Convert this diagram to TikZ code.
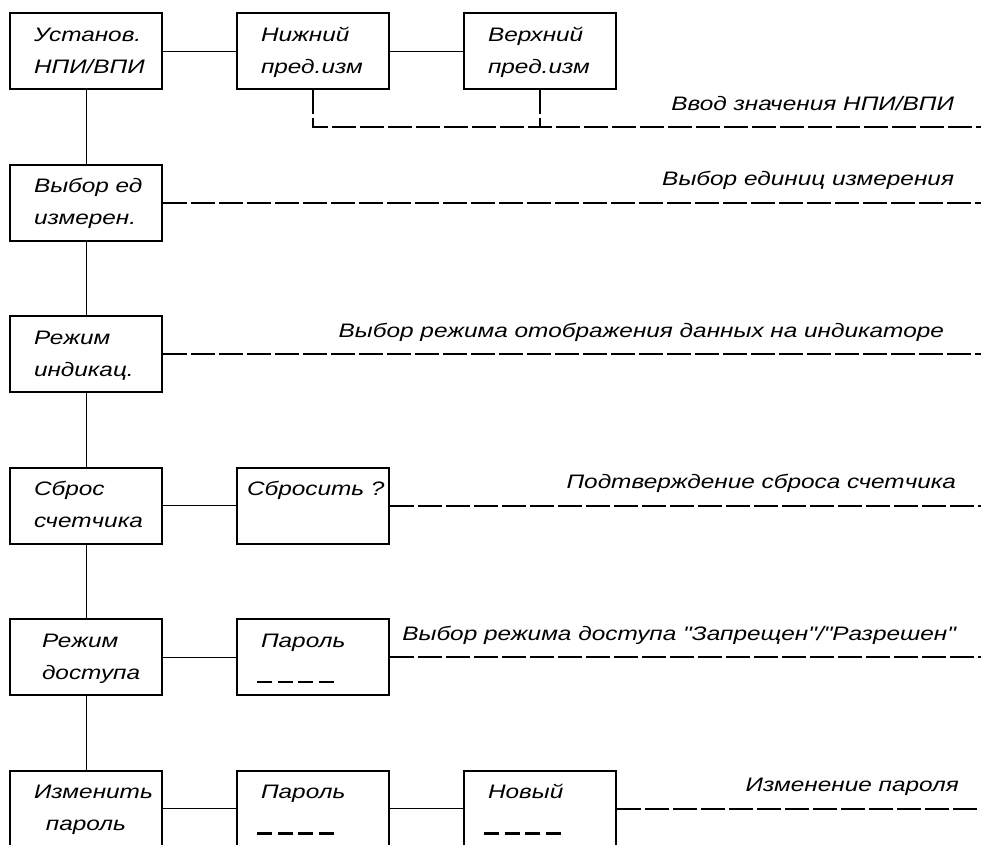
\documentclass[tikz,border=0pt]{standalone}
\usepackage{fontspec}
\setmainfont{Liberation Sans}[FakeStretch=1.25,Ligatures=TeXOff]
\usetikzlibrary{positioning}
\newcommand{\two}[2]{\strut#1\\\strut#2}
\newcommand{\pwd}{\hspace*{-4pt}\rule[-4pt]{15pt}{2.6pt}\hspace{5.5pt}\rule[-4pt]{15pt}{2.6pt}\hspace{5.5pt}\rule[-4pt]{15pt}{2.6pt}\hspace{5.5pt}\rule[-4pt]{15pt}{2.6pt}}

\begin{document}
\begin{tikzpicture}[x=1pt,y=-1pt,
  every node/.style={font=\fontsize{19.5}{32}\selectfont\itshape},
  box/.style={draw,line width=2pt,minimum width=152pt,minimum height=76pt,inner xsep=24pt,inner ysep=0pt,text width=104pt,align=left},
  link/.style={line width=1pt},
  route/.style={line width=2pt,dash pattern=on 24pt off 4pt},
  lbl/.style={anchor=base east,inner sep=0pt,yshift=17pt}]
\useasboundingbox (0,0) rectangle (981,844);
% left column
\node[box,align=center] (set) at (86,51) {\two{Установ.}{НПИ/ВПИ}};
\node[box,below=73.5pt of set] (unit) {\two{Выбор~ед}{измерен.}};
\node[box,below=73.5pt of unit] (disp) {\two{Режим}{индикац.}};
\node[box,below=73.5pt of disp] (reset) {\two{Сброс}{счетчика}};
\node[box,below=73.5pt of reset,inner xsep=32pt,text width=88pt] (access) {\two{Режим}{доступа}};
\node[box,below=73.5pt of access,align=center] (chpass) {\two{Изменить}{пароль}};
% side boxes
\node[box,right=73pt of set] (lower) {\two{Нижний}{пред.изм}};
\node[box,right=73pt of lower] (upper) {\two{Верхний}{пред.изм}};
\node[box,right=73pt of reset,inner xsep=10pt,text width=132pt] (conf) {\two{Сбросить~?}{}};
\node[box,right=73pt of access] (pass1) {\two{Пароль}{\pwd}};
\node[box,right=73pt of chpass] (pass2) {\two{Пароль}{\pwd}};
\node[box,right=73pt of pass2] (newpass) {\two{Новый}{\pwd}};
\coordinate (e1) at (981,127);
% solid links
\draw[link] (set) -- (unit) -- (disp) -- (reset) -- (access) -- (chpass);
\draw[link] (set) -- (lower) -- (upper);
\draw[link] (reset) -- (conf);
\draw[link] (access) -- (pass1);
\draw[link] (chpass) -- (pass2) -- (newpass);
% dashed routes
\draw[route] (lower.south) |- (e1) node[lbl,pos=1,xshift=-26pt] {Ввод значения НПИ/ВПИ};
\draw[route] (upper.south) -- (upper.south |- e1);
\draw[route] (unit.east) -- (unit.east -| e1) node[lbl,pos=1,xshift=-26pt] {Выбор единиц измерения};
\draw[route] (disp.east) -- (disp.east -| e1) node[lbl,pos=1,xshift=-36pt] {Выбор режима отображения данных на индикаторе};
\draw[route] (conf.east) -- (conf.east -| e1) node[lbl,pos=1,xshift=-24pt] {Подтверждение сброса счетчика};
\draw[route] (pass1.east) -- (pass1.east -| e1) node[lbl,pos=1,xshift=-24pt] {Выбор режима доступа "Запрещен"/"Разрешен"};
\draw[route] (newpass.east) -- (newpass.east -| e1) node[lbl,pos=1,xshift=-21pt] {Изменение пароля};
\end{tikzpicture}
\end{document}
